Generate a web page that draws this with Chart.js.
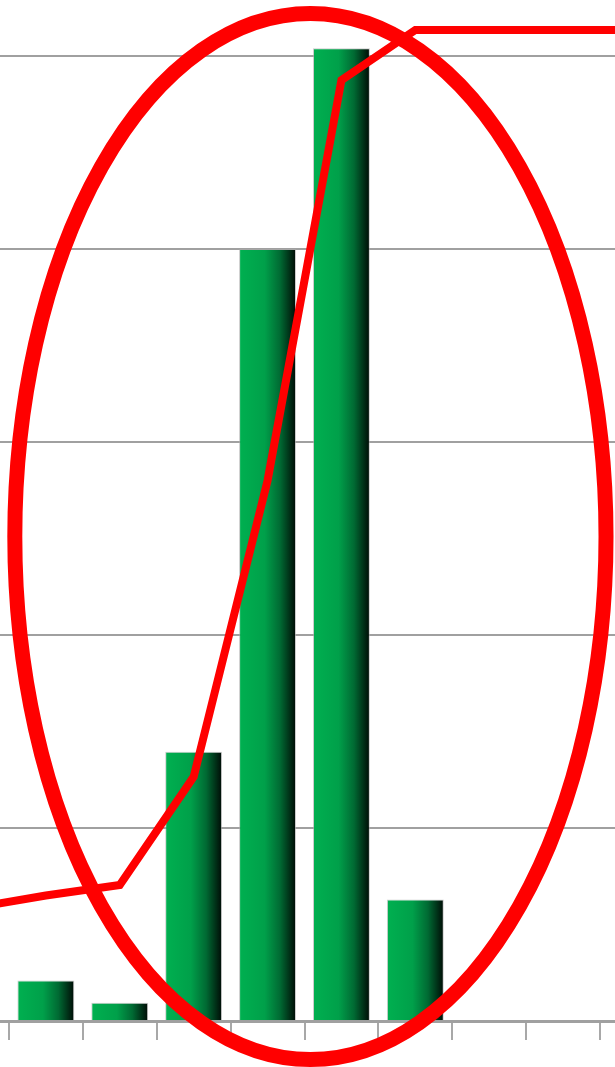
<!DOCTYPE html>
<html>
<head>
<meta charset="utf-8">
<script src="https://cdn.jsdelivr.net/npm/chart.js@4/dist/chart.umd.min.js"></script>
<style>
    html, body { margin: 0; padding: 0; background: #fff; }
    #wrap { position: relative; width: 615px; height: 1067px; overflow: hidden; }
    #chart { position: absolute; left: -65.3px; top: -137px; }
</style>
</head>
<body>
<div id="wrap"><canvas id="chart" width="739" height="1218"></canvas></div>
<script>
// bins (first and last only partly in view)
const categories = ['b0', 'b1', 'b2', 'b3', 'b4', 'b5', 'b6', 'b7', 'b8', 'b9'];
// bar heights, one gridline = 10
const barValues = [0, 2.1, 0.95, 13.95, 40.0, 50.4, 6.3, 0, 0, 0];
// red cumulative line, same units
const cumulative = [5.85, 6.5, 7.05, 12.65, 28.0, 48.75, 51.35, 51.35, 51.35, 51.35];
const yTicks = { min: 0, max: 60, step: 10 };

function barGradient(ctx) {
    const chart = ctx.chart;
    const xs = chart.scales.x;
    if (!chart.chartArea || !xs) return '#00a04a';
    const slot = xs.width / categories.length;
    const w = slot * 0.77;
    const cx = xs.getPixelForValue(ctx.dataIndex);
    const g = chart.ctx.createLinearGradient(cx - w / 2, 0, cx + w / 2, 0);
    g.addColorStop(0, '#00b050');
    g.addColorStop(0.45, '#00a04a');
    g.addColorStop(0.72, '#006a33');
    g.addColorStop(1, '#000a05');
    return g;
}

// the red ring drawn round the peak
const ringPlugin = {
    id: 'ring',
    afterDraw(chart) {
        const x = chart.scales.x, y = chart.scales.y;
        const slot = x.width / categories.length;
        const cx = x.getPixelForValue(4.58);
        const cy = y.getPixelForValue(25.1);
        const rx = slot * 4.0;
        const ry = y.getPixelForValue(0) - y.getPixelForValue(27.1);
        const c = chart.ctx;
        c.save();
        c.beginPath();
        c.ellipse(cx, cy, rx, ry, 0, 0, Math.PI * 2);
        c.strokeStyle = '#ff0000';
        c.lineWidth = 15;
        c.stroke();
        c.restore();
    }
};

new Chart(document.getElementById('chart'), {
    type: 'bar',
    data: {
        labels: categories,
        datasets: [
            {
                type: 'line',
                data: cumulative,
                borderColor: '#ff0000',
                borderWidth: 8,
                pointRadius: 0,
                tension: 0,
                fill: false,
                order: 0
            },
            {
                data: barValues,
                backgroundColor: barGradient,
                borderColor: 'rgba(170,170,170,0.6)',
                borderWidth: 1,
                borderSkipped: 'bottom',
                categoryPercentage: 1,
                barPercentage: 0.77,
                order: 1
            }
        ]
    },
    options: {
        responsive: false,
        animation: false,
        devicePixelRatio: 1,
        layout: { padding: { left: 0, right: 0, top: 0, bottom: 40 } },
        plugins: { legend: { display: false }, tooltip: { enabled: false } },
        scales: {
            x: {
                offset: true,
                grid: {
                    offset: true,
                    drawOnChartArea: false,
                    drawTicks: true,
                    tickLength: 19,
                    color: '#a8a8a8',
                    lineWidth: 2
                },
                border: { display: true, color: '#a0a0a0', width: 3 },
                ticks: { display: false },
                afterFit: s => { s.height = 20; }
            },
            y: {
                min: yTicks.min,
                max: yTicks.max,
                ticks: { display: false, stepSize: yTicks.step },
                grid: { color: '#a0a0a0', lineWidth: 2, drawTicks: false },
                border: { display: false },
                afterFit: s => { s.width = 0; }
            }
        }
    },
    plugins: [ringPlugin]
});
</script>
</body>
</html>
